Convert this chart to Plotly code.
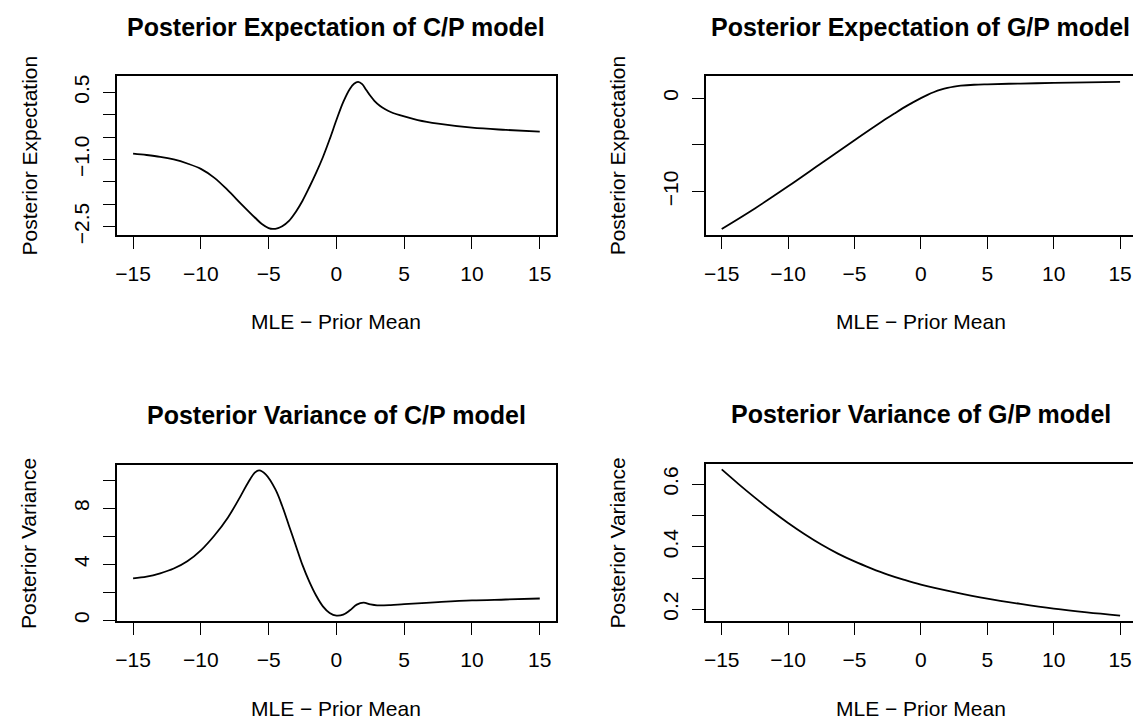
import plotly.graph_objects as go

# ---------------- data ----------------
cp_exp_x = [-15, -14, -13, -12, -11, -10, -9, -8, -7, -6, -5.5, -5, -4.7, -4.3, -4, -3.5, -3, -2.5, -2, -1.5, -1, -0.5, 0,
            0.5, 1, 1.3, 1.6, 1.9, 2.2, 2.5, 2.8, 3.2, 3.6, 4, 5, 6, 7.5, 10, 12.5, 15]
cp_exp_y = [-0.87, -0.9, -0.94, -1.0, -1.09, -1.21, -1.41, -1.69, -2.0, -2.3, -2.44, -2.53, -2.55, -2.53, -2.49, -2.37,
            -2.17, -1.92, -1.62, -1.3, -0.95, -0.55, -0.12, 0.28, 0.58, 0.69, 0.73, 0.68, 0.55, 0.42, 0.31, 0.2, 0.12,
            0.06, -0.04, -0.12, -0.2, -0.29, -0.34, -0.38]

gp_exp_x = [-15, -12.5, -10, -7.5, -5, -2.5, -2, -1, 0, 0.5, 1, 1.5, 2, 2.5, 3, 4, 5, 7.5, 10, 12.5, 15]
gp_exp_y = [-14.0, -11.8, -9.44, -6.97, -4.5, -2.1, -1.65, -0.78, 0.0, 0.35, 0.65, 0.9, 1.1, 1.24, 1.33, 1.43, 1.48,
            1.56, 1.62, 1.68, 1.73]

cp_var_x = [-15, -14, -13, -12, -11, -10, -9, -8, -7, -6.5, -6, -5.7, -5.2, -4.5, -4, -3.5, -3, -2.5, -2, -1.5, -1,
            -0.5, 0, 0.5, 1, 1.5, 2, 2.5, 3, 4, 5, 7.5, 10, 12.5, 15]
cp_var_y = [2.99, 3.11, 3.35, 3.69, 4.21, 4.99, 6.05, 7.34, 8.99, 9.86, 10.56, 10.7, 10.4, 9.34, 8.16, 6.75, 5.34, 3.93,
            2.75, 1.76, 0.99, 0.52, 0.33, 0.4, 0.71, 1.11, 1.25, 1.13, 1.06, 1.08, 1.15, 1.29, 1.41, 1.48, 1.55]

gp_var_x = [-15, -13.75, -12.5, -11.25, -10, -8.75, -7.5, -6.25, -5, -3.75, -2.5, -1.25, 0, 2.5, 5, 7.5, 10, 12.5, 15]
gp_var_y = [0.647, 0.601, 0.557, 0.515, 0.476, 0.44, 0.407, 0.378, 0.353, 0.331, 0.311, 0.294, 0.279, 0.255, 0.234,
            0.217, 0.202, 0.19, 0.18]

x_ticks = [-15, -10, -5, 0, 5, 10, 15]
x_tick_labels = ["\u221215", "\u221210", "\u22125", "0", "5", "10", "15"]

cp_exp_ticks = [-2.5, -2.0, -1.5, -1.0, -0.5, 0.0, 0.5]
cp_exp_labels = ["\u22122.5", "", "", "\u22121.0", "", "", "0.5"]
gp_exp_ticks = [-10, -5, 0]
gp_exp_labels = ["\u221210", "", "0"]
cp_var_ticks = [0, 2, 4, 6, 8, 10]
cp_var_labels = ["0", "", "4", "", "8", ""]
gp_var_ticks = [0.2, 0.3, 0.4, 0.5, 0.6]
gp_var_labels = ["0.2", "", "0.4", "", "0.6"]

titles = ["Posterior Expectation of C/P model", "Posterior Expectation of G/P model",
          "Posterior Variance of C/P model", "Posterior Variance of G/P model"]
ylabels = ["Posterior Expectation", "Posterior Expectation", "Posterior Variance", "Posterior Variance"]
xlabel = "MLE \u2212 Prior Mean"

# ---------------- layout ----------------
W, H = 1141, 721
FONT = "Liberation Sans, Arial, Helvetica, sans-serif"
TICK_SIZE = 21
TITLE_SIZE = 25

# plot boxes in pixels: (left, right, top, bottom)
boxes = [(107, 547, 68, 229), (697, 1128, 68, 229),
         (107, 547, 462, 621), (697, 1128, 461, 621)]

def rext(vals):
    lo, hi = min(vals), max(vals)
    d = (hi - lo) * 0.04
    return [lo - d, hi + d]

series = [(cp_exp_x, cp_exp_y, cp_exp_ticks, cp_exp_labels),
          (gp_exp_x, gp_exp_y, gp_exp_ticks, gp_exp_labels),
          (cp_var_x, cp_var_y, cp_var_ticks, cp_var_labels),
          (gp_var_x, gp_var_y, gp_var_ticks, gp_var_labels)]

fig = go.Figure()
annotations = []
for i, ((xs, ys, yt, yl), (l, r, t, b)) in enumerate(zip(series, boxes)):
    n = "" if i == 0 else str(i + 1)
    xa, ya = "x" + n, "y" + n
    fig.add_trace(go.Scatter(x=xs, y=ys, mode="lines", xaxis=xa, yaxis=ya,
                             line=dict(color="black", width=1.8, shape="spline", smoothing=1.0),
                             showlegend=False, hoverinfo="skip"))
    axcommon = dict(showline=True, linecolor="black", linewidth=1.6, mirror=True,
                    ticks="outside", ticklen=12, tickwidth=1.4, tickcolor="black",
                    showgrid=False, zeroline=False,
                    tickfont=dict(family=FONT, size=TICK_SIZE, color="black"))
    fig.update_layout(**{
        "xaxis" + n: dict(domain=[l / W, r / W], anchor=ya, range=rext(xs),
                          tickvals=x_ticks, ticktext=x_tick_labels, tickmode="array",
                          ticklabelstandoff=7, **axcommon),
        "yaxis" + n: dict(domain=[1 - b / H, 1 - t / H], anchor=xa, range=rext(ys),
                          tickvals=yt, ticktext=yl, tickmode="array", tickangle=-90,
                          ticklabelstandoff=6, **axcommon),
    })
    cx = (l + r) / 2 / W
    annotations.append(dict(text="<b>" + titles[i] + "</b>", x=cx, y=1 - (t - 50) / H,
                            xref="paper", yref="paper", showarrow=False,
                            xanchor="center", yanchor="middle",
                            font=dict(family=FONT, size=TITLE_SIZE, color="black")))
    annotations.append(dict(text=xlabel, x=cx, y=1 - (b + 88) / H,
                            xref="paper", yref="paper", showarrow=False,
                            xanchor="center", yanchor="middle",
                            font=dict(family=FONT, size=TICK_SIZE, color="black")))
    annotations.append(dict(text=ylabels[i], x=(l - 88) / W, y=1 - (t + b) / 2 / H,
                            xref="paper", yref="paper", showarrow=False, textangle=-90,
                            xanchor="center", yanchor="middle",
                            font=dict(family=FONT, size=TICK_SIZE, color="black")))

fig.update_layout(width=W, height=H, margin=dict(l=0, r=0, t=0, b=0),
                  paper_bgcolor="white", plot_bgcolor="white",
                  annotations=annotations)

fig.write_html("out.html", include_plotlyjs=True, config={"displayModeBar": False})
